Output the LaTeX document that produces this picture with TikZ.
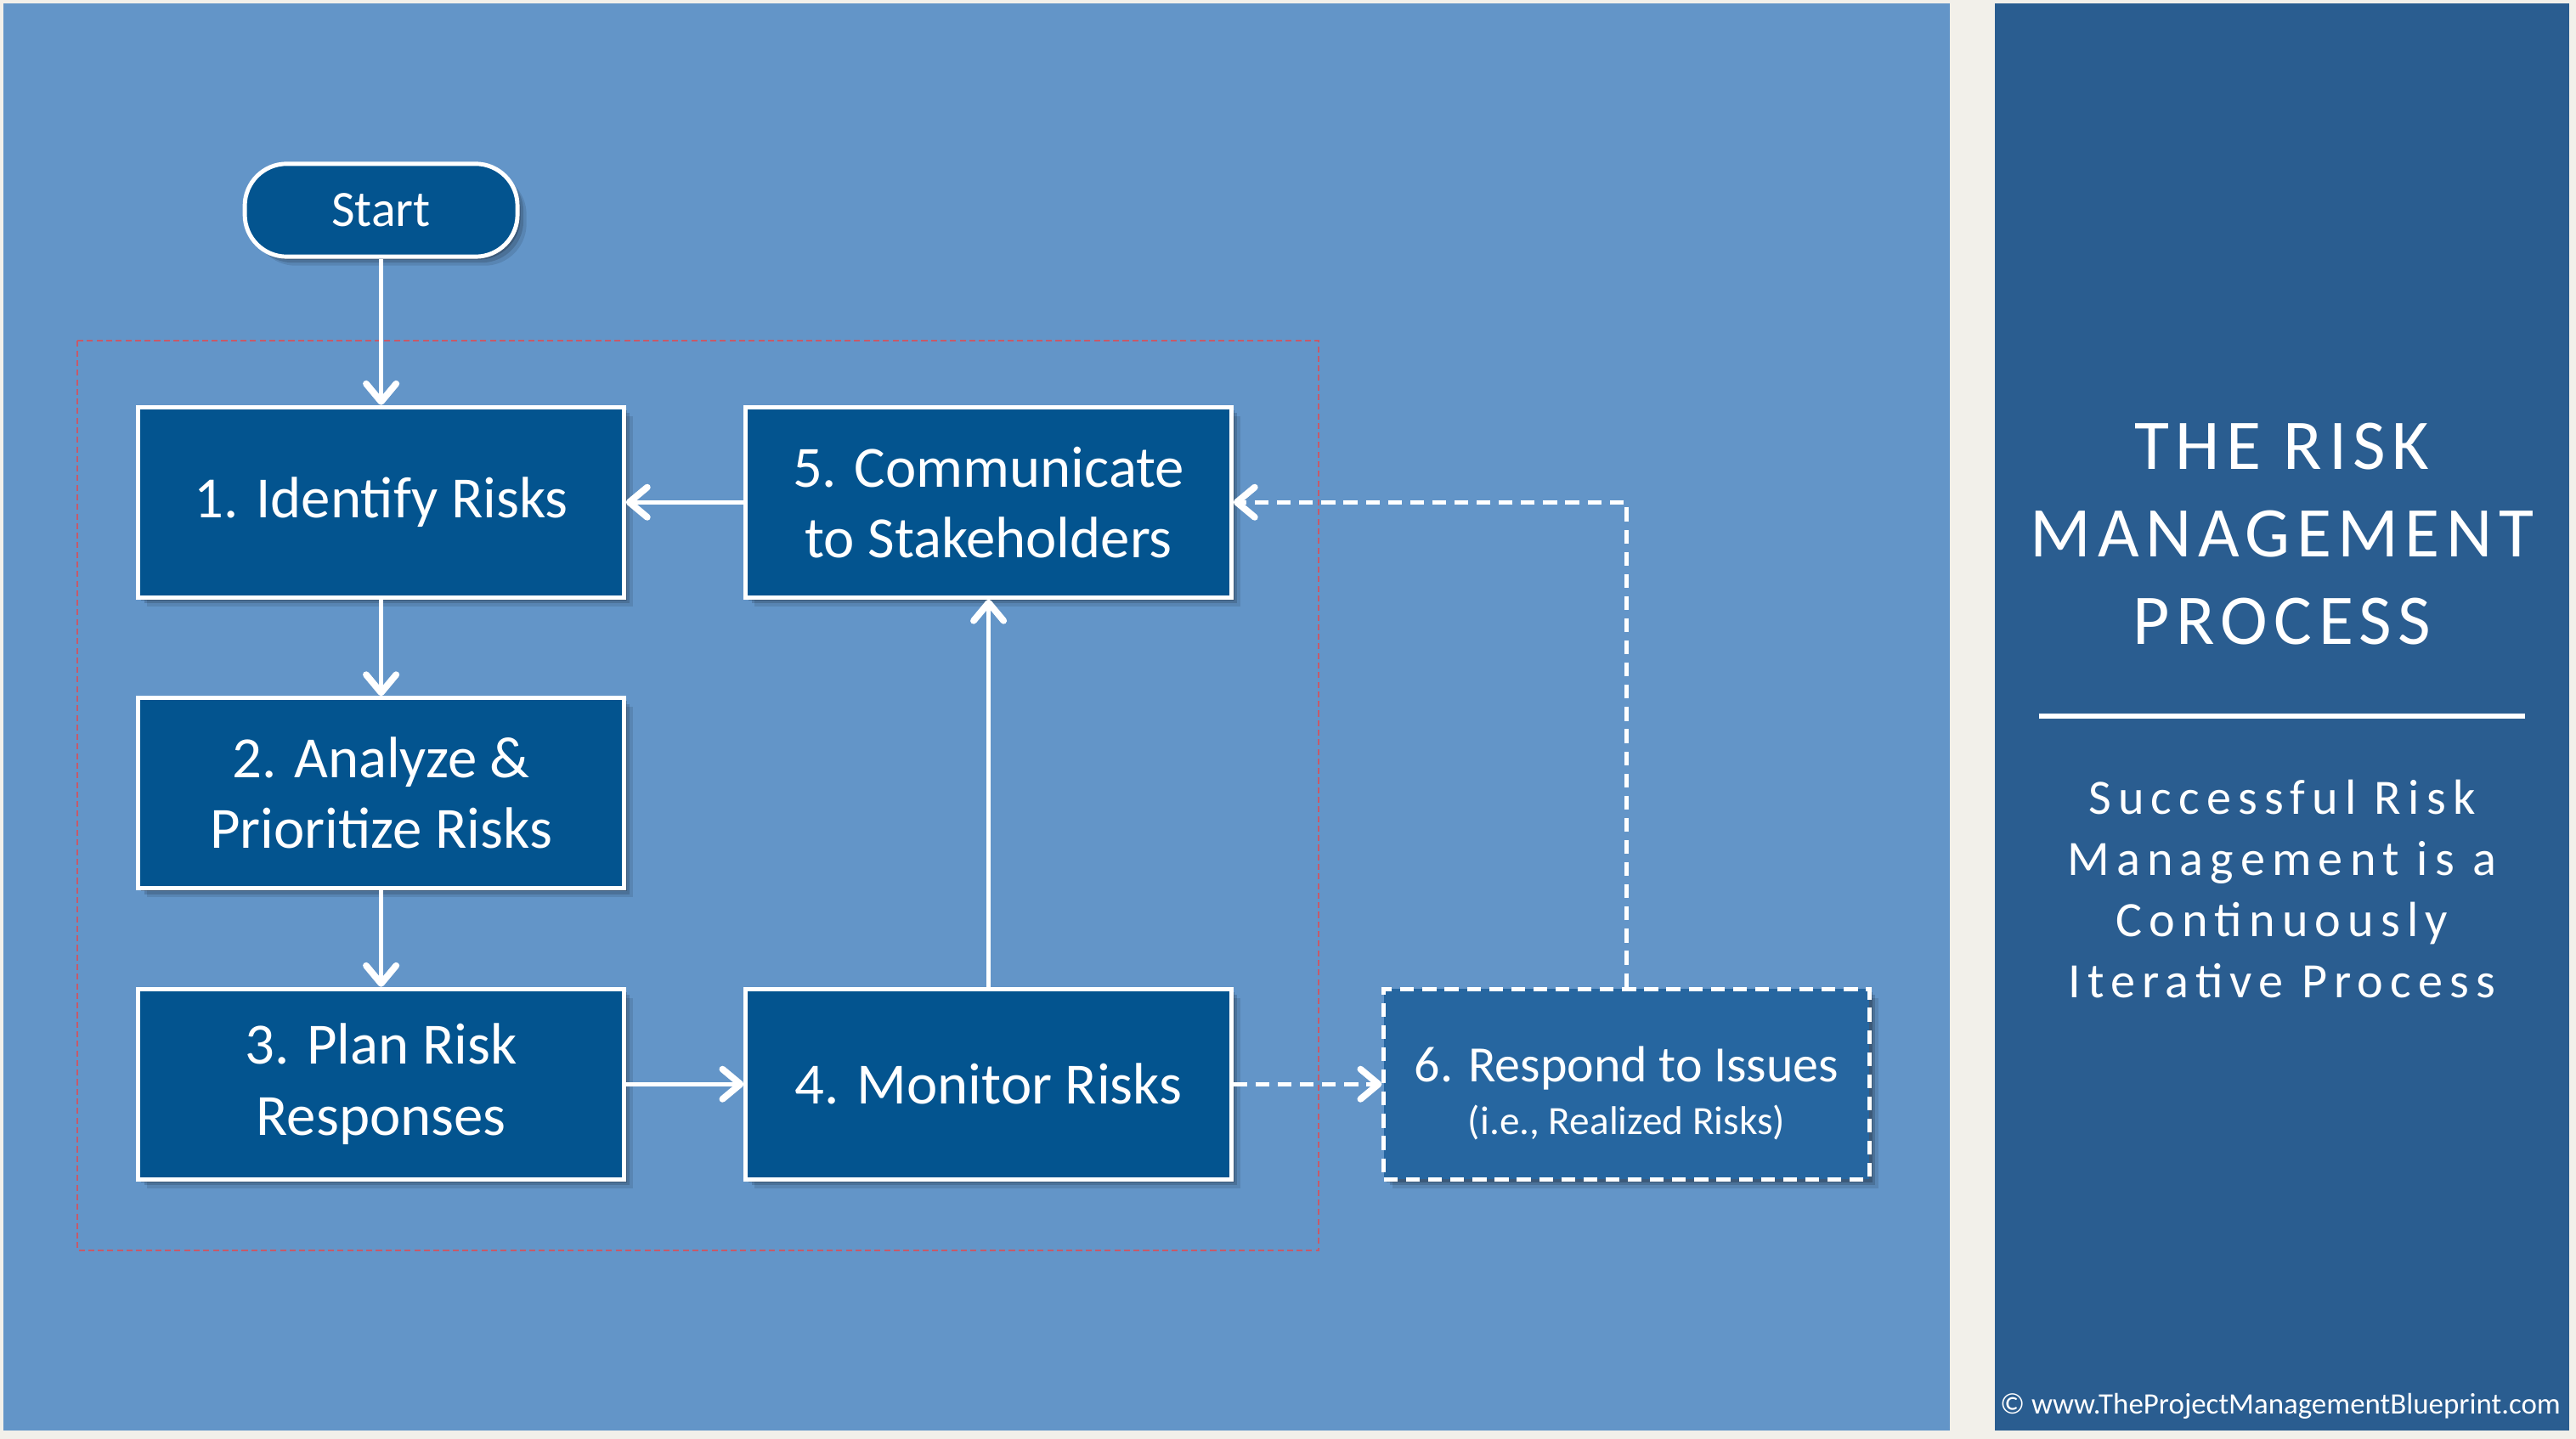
\documentclass[tikz,border=0pt]{standalone}
\usepackage{fontspec}
\setmainfont{Carlito}
\newfontfamily\titlefont[LetterSpace=9]{Carlito}
\newfontfamily\subfont[LetterSpace=14]{Carlito}
\usetikzlibrary{positioning,shadows,arrows.meta,calc}
\definecolor{pagebg}{HTML}{F2F0EA}
\definecolor{panel}{HTML}{6395C8}
\definecolor{sidebar}{HTML}{2A5D90}
\definecolor{stepblue}{HTML}{03548F}
\definecolor{issueblue}{HTML}{2666A0}
\definecolor{framered}{HTML}{C65A6A}
\tikzset{
	softshadow/.style={
		drop shadow={shadow xshift=1pt,shadow yshift=-1pt,opacity=.2,fill=black},
		drop shadow={shadow xshift=2pt,shadow yshift=-2pt,opacity=.15,fill=black},
		drop shadow={shadow xshift=3pt,shadow yshift=-3pt,opacity=.1,fill=black}},
	stepbox/.style={draw=white,line width=1.4pt,fill=stepblue,text=white,
		minimum width=162pt,minimum height=63.5pt,inner sep=0pt,align=center,
		font=\fontsize{19.5}{23.6}\selectfont,softshadow},
	startbox/.style={stepbox,minimum width=91pt,minimum height=31pt,
		rounded corners=14pt,font=\fontsize{17}{20}\selectfont},
	issuebox/.style={stepbox,fill=issueblue,dash pattern=on 4.6pt off 2.8pt},
	issuetext/.style={text=white,align=center,yshift=-3pt,
		font=\fontsize{17}{17.5}\selectfont},
	flow/.style={draw=white,line width=1.4pt,
		-{Straight Barb[length=6pt,width=10pt,line width=0.8pt 1,round]}},
	flowdash/.style={flow,dash pattern=on 4.6pt off 2.8pt}
}

\begin{document}
\begin{tikzpicture}[x=0.5482pt,y=0.5482pt]
\useasboundingbox (0,0) rectangle (1568,876);
\fill[pagebg] (0,0) rectangle (1568,876);
\fill[panel] (2,5) rectangle (1187,874);
\fill[sidebar] (1214,5) rectangle (1564,874);

\node[startbox] (start) at (232,748) {Start};
\node[stepbox,below=48.8pt of start] (identify) {1. Identify Risks};
\node[stepbox,below=32.2pt of identify] (analyze) {2. Analyze \&\\Prioritize Risks};
\node[stepbox,below=32.2pt of analyze] (plan) {3. Plan Risk\\Responses};
\node[stepbox,right=39.3pt of identify] (communicate) {5. Communicate\\to Stakeholders};
\node[stepbox,right=39.3pt of plan] (monitor) {4. Monitor Risks};
\node[issuebox,right=49.5pt of monitor,
	label={[issuetext]center:{6. Respond to Issues\\{\fontsize{13.4}{16}\selectfont(i.e., Realized Risks)}}}] (respond) {};

\draw[framered,line width=0.55pt,dash pattern=on 2pt off 1.2pt]
	($(identify.north west)+(-36,39)$) rectangle ($(monitor.south east)+(52,-42)$);

\draw[flow] (start) -- (identify);
\draw[flow] (identify) -- (analyze);
\draw[flow] (analyze) -- (plan);
\draw[flow] (plan) -- (monitor);
\draw[flow] (monitor) -- (communicate);
\draw[flow] (communicate) -- (identify);
\draw[flowdash] (monitor) -- (respond);
\draw[flowdash] (respond.north) |- (communicate.east);

\node[text=white,align=center,font=\titlefont\fontsize{23.8}{29.3}\selectfont]
	(title) at (1389,551) {THE RISK\\MANAGEMENT\\PROCESS};
\coordinate (ruleleft) at (1241,440);
\coordinate (ruleright) at (1537,440);
\draw[white,line width=1.6pt] (ruleleft) -- (ruleright);
\node[text=white,align=center,font=\subfont\fontsize{16.5}{20.4}\selectfont]
	(motto) at (1389,335) {Successful Risk\\Management is a\\Continuously\\Iterative Process};
\node[text=white,font=\fontsize{9.9}{12}\selectfont] (copy) at (1388,20)
	{\textcopyright{} www.TheProjectManagementBlueprint.com};
\end{tikzpicture}
\end{document}
